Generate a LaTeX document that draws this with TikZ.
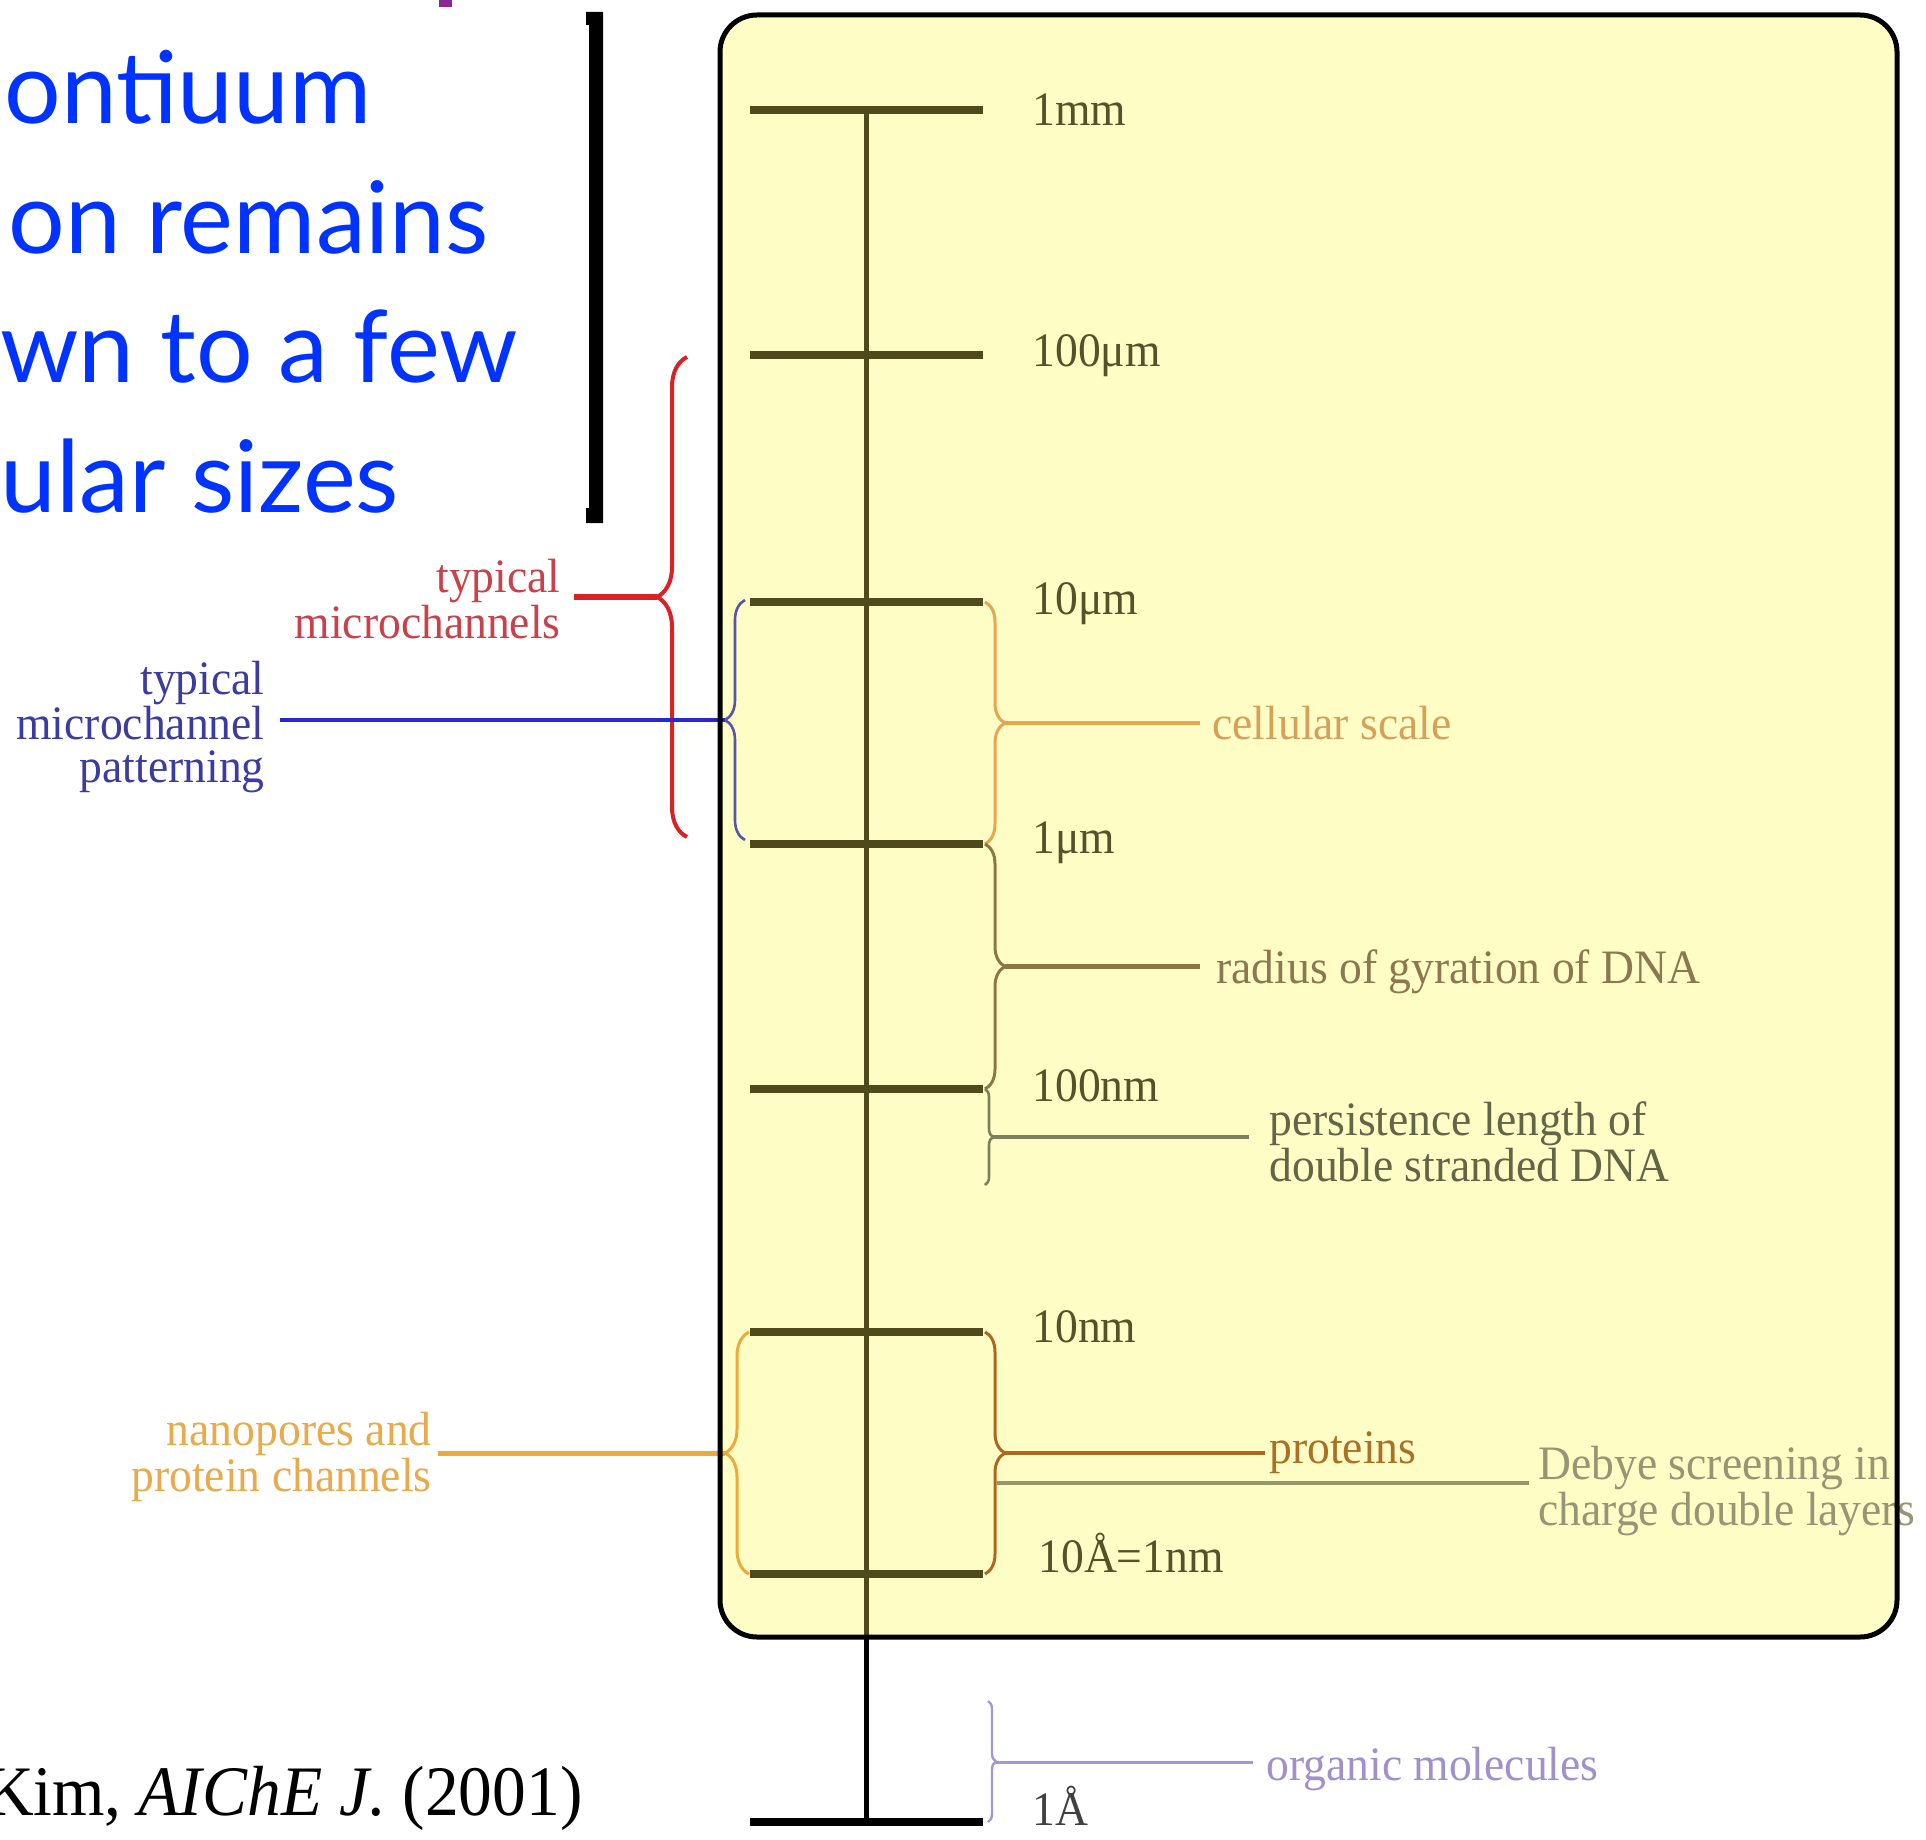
\documentclass[tikz,border=0pt]{standalone}
\usepackage{fontspec}
\usetikzlibrary{decorations.pathreplacing}
\setmainfont{Liberation Serif}
\newfontfamily\lblfont[FakeStretch=0.95]{Liberation Serif}
\newfontfamily\gillfont{Lato}
\definecolor{boxfill}{RGB}{255,253,198}
\definecolor{olivetick}{RGB}{78,74,28}
\definecolor{olivetxt}{RGB}{85,82,42}
\definecolor{titleblue}{RGB}{0,51,255}
\definecolor{redbrace}{RGB}{215,35,40}
\definecolor{redtxt}{RGB}{200,65,75}
\definecolor{bluebrace}{RGB}{85,85,170}
\definecolor{blueline}{RGB}{40,40,210}
\definecolor{bluetxt}{RGB}{60,60,160}
\definecolor{cellcol}{RGB}{232,165,80}
\definecolor{celltxt}{RGB}{215,160,90}
\definecolor{radcol}{RGB}{140,118,70}
\definecolor{radtxt}{RGB}{140,120,80}
\definecolor{perscol}{RGB}{125,128,95}
\definecolor{perstxt}{RGB}{100,100,70}
\definecolor{nanocol}{RGB}{235,170,60}
\definecolor{nanotxt}{RGB}{232,170,75}
\definecolor{protcol}{RGB}{170,105,30}
\definecolor{prottxt}{RGB}{170,112,40}
\definecolor{debcol}{RGB}{150,150,105}
\definecolor{debtxt}{RGB}{150,150,115}
\definecolor{orgcol}{RGB}{165,150,215}
\definecolor{orgtxt}{RGB}{160,145,205}
\definecolor{purplenub}{RGB}{140,40,150}
\begin{document}
\begin{tikzpicture}[x=0.5pt,y=-0.5pt,
  lbl/.style={font=\lblfont\fontsize{24}{21.5}\selectfont, inner ysep=0pt},
  scaletick/.style={line width=4pt, draw=olivetick},
  bracedeco/.style={decorate, decoration={brace, amplitude=#1}},
  title/.style={font=\gillfont\fontsize{50}{60}\selectfont, text=titleblue, inner sep=0pt}]
\useasboundingbox (0,0) rectangle (1926,1840);
\fill[white] (0,0) rectangle (1926,1840);

% yellow box (fill)
\fill[boxfill, rounded corners=18.5pt] (720,15) rectangle (1897,1637);

% scale
\coordinate (vtop) at (866,110);
\coordinate (vbox) at (866,1637);
\coordinate (vbot) at (866,1822);
\draw[line width=2.5pt, olivetick] (vtop) -- (vbox);
\draw[line width=2.5pt, black] (vbox) -- (vbot);
\foreach \yy in {110,355,602,844,1089,1332,1574}
  \draw[scaletick] (750,\yy) -- (983,\yy);
\draw[scaletick, draw=black] (750,1822) -- (983,1822);

% tick labels
\node[lbl, text=olivetxt, anchor=base west, inner sep=0pt] (l1) at (1032,126) {1mm};
\node[lbl, text=olivetxt, anchor=base west, inner sep=0pt] (l2) at (1032,366) {100μm};
\node[lbl, text=olivetxt, anchor=base west, inner sep=0pt] (l3) at (1032,614) {10μm};
\node[lbl, text=olivetxt, anchor=base west, inner sep=0pt] (l4) at (1032,853) {1μm};
\node[lbl, text=olivetxt, anchor=base west, inner sep=0pt] (l5) at (1032,1101) {100nm};
\node[lbl, text=olivetxt, anchor=base west, inner sep=0pt] (l6) at (1032,1342) {10nm};
\node[lbl, text=olivetxt, anchor=base west, inner sep=0pt] (l7) at (1038,1572) {10Å=1nm};
\node[lbl, text=black!75, anchor=base west, inner sep=0pt] (l8) at (1032,1825) {1Å};

% braces
\draw[bracedeco=15pt, redbrace, line width=2pt] (687,837) -- (687,357);
\coordinate (redtip) at (657,597);
\draw[bracedeco=10pt, bluebrace, line width=1.3pt] (745,840) -- (745,600);
\coordinate (bluetip) at (725,720);
\draw[bracedeco=12pt, nanocol, line width=1.5pt] (749,1574) -- (749,1332);
\coordinate (nanotip) at (725,1453);
\draw[bracedeco=10pt, cellcol, line width=1.5pt] (985,602) -- (985,844);
\coordinate (celltip) at (1005,723);
\draw[bracedeco=10pt, radcol, line width=1.5pt] (985,844) -- (985,1089);
\coordinate (radtip) at (1005,966);
\draw[bracedeco=4pt, perscol, line width=1.3pt] (985,1089) -- (985,1185);
\coordinate (perstip) at (993,1137);
\draw[bracedeco=10pt, protcol, line width=1.5pt] (985,1332) -- (985,1574);
\coordinate (prottip) at (1005,1453);
\coordinate (debstart) at (997,1483);
\draw[bracedeco=4pt, orgcol, line width=1.2pt] (988,1701) -- (988,1822);
\coordinate (orgtip) at (996,1762);

% labels
\node[lbl, text=redtxt, align=right, inner xsep=6.5pt, anchor=east] (redlbl) at (574,599) {typical\\microchannels};
\node[lbl, text=bluetxt, align=right, inner xsep=7.5pt, anchor=east] (bluelbl) at (280,727) {typical\\microchannel\\patterning};
\node[lbl, text=nanotxt, align=right, inner xsep=3pt, anchor=east] (nanolbl) at (438,1457) {nanopores and\\protein channels};
\node[lbl, text=celltxt, inner xsep=6pt, anchor=west] (celllbl) at (1200,723) {cellular scale};
\node[lbl, text=radtxt, inner xsep=8pt, anchor=west] (radlbl) at (1200,972) {radius of gyration of DNA};
\node[lbl, text=perstxt, align=left, inner xsep=10pt, anchor=west] (perslbl) at (1249,1142) {persistence length of\\double stranded DNA};
\node[lbl, text=prottxt, inner xsep=2pt, anchor=west] (protlbl) at (1265,1453) {proteins};
\node[lbl, text=debtxt, align=left, inner xsep=4.5pt, anchor=west] (deblbl) at (1529,1491) {Debye screening in\\charge double layers};
\node[lbl, text=orgtxt, inner xsep=6.5pt, anchor=west] (orglbl) at (1253,1769) {organic molecules};

% connectors
\draw[redbrace, line width=3pt] (redtip) -- (redlbl.east |- redtip);
\draw[blueline, line width=2pt] (bluetip) -- (bluelbl.east |- bluetip);
\draw[nanocol, line width=2.5pt] (nanotip) -- (nanolbl.east |- nanotip);
\draw[cellcol, line width=1.8pt] (celltip) -- (celllbl.west);
\draw[radcol, line width=2.5pt] (radtip) -- (radlbl.west |- radtip);
\draw[perscol, line width=2pt] (perstip) -- (perslbl.west |- perstip);
\draw[protcol, line width=2pt] (prottip) -- (protlbl.west);
\draw[debcol, line width=2pt] (debstart) -- (deblbl.west |- debstart);
\draw[orgcol, line width=1.5pt] (orgtip) -- (orglbl.west |- orgtip);

% box border
\draw[black, line width=2.5pt, rounded corners=18.5pt] (720,15) rectangle (1897,1637);

% black bracket
\fill[black] (586,12) -- (603,12) -- (603,523) -- (586,523) -- (586,508) -- (589,508) -- (589,25) -- (586,25) -- cycle;

% purple remnant
\fill[purplenub] (439,0) rectangle (452,7);

% blue title text
\node[title, anchor=base west] (t1) at (4,124) {ontiuum};
\node[title, anchor=base west] (t2) at (8,254) {on remains};
\node[title, anchor=base west] (t3) at (0,383) {wn to a few};
\node[title, anchor=base west] (t4) at (0,512) {ular sizes};

% citation
\node[font=\lblfont\fontsize{35.5}{40}\selectfont, anchor=base east, inner sep=0pt] (cite) at (583,1815) {Kim, \textit{AIChE J.} (2001)};
\end{tikzpicture}
\end{document}
